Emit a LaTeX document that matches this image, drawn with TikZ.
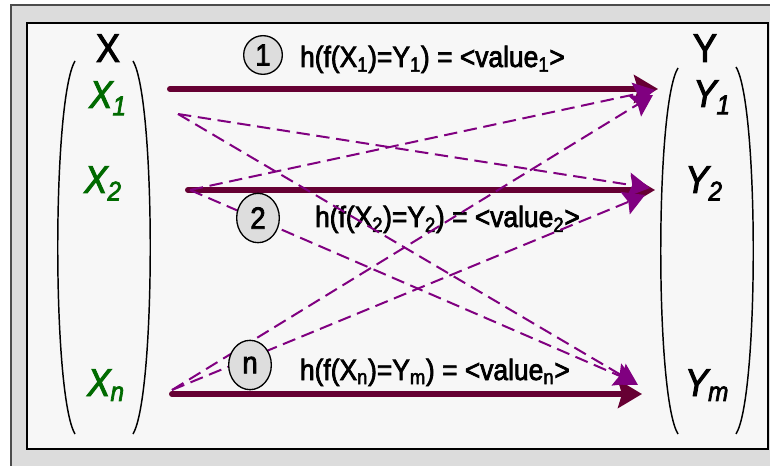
\documentclass[tikz,border=0pt]{standalone}
\usepackage{fontspec}
\setmainfont[FakeStretch=0.9, FakeBold=2.5]{Liberation Sans}
\usetikzlibrary{arrows.meta, shapes.geometric}

\definecolor{mapcol}{HTML}{660033}
\definecolor{altcol}{HTML}{800080}
\definecolor{elemgreen}{HTML}{006A00}
\definecolor{framegray}{HTML}{DCDCDC}
\definecolor{panelgray}{HTML}{F7F7F7}
\definecolor{stepgray}{HTML}{DDDDDD}

\begin{document}
\begin{tikzpicture}[x=0.75pt, y=-0.75pt, >=Stealth,
    setname/.style={font=\fontsize{30}{32}\selectfont, inner sep=0pt, anchor=base},
    xelem/.style={font=\fontsize{29}{30}\selectfont\itshape, text=elemgreen, inner sep=0pt, anchor=base},
    yelem/.style={font=\fontsize{29}{30}\selectfont\itshape, inner sep=0pt, anchor=base},
    bracket/.style={line width=1.1pt},
    mapping/.style={draw=mapcol, line width=4.5pt, line cap=round,
      -{Stealth[length=18pt, width=21pt, inset=3pt]}},
    crossing/.style={draw=altcol, line width=1.5pt, dash pattern=on 10pt off 5pt,
      -{Stealth[length=16pt, width=18pt, inset=2.5pt]}},
    maplabel/.style={font=\fontsize{22}{24}\selectfont, inner sep=0pt, anchor=base east},
    stepno/.style={ellipse, draw, fill=stepgray, line width=1pt, inner sep=0pt,
      minimum width=32pt, minimum height=37pt, font=\fontsize{23}{24}\selectfont}]
    \clip (0,0) rectangle (770,466);

    % Frames
    \draw[fill=framegray, draw=black!70, line width=1.2pt] (11,5) rectangle (800,500);
    \draw[fill=panelgray, line width=1pt] (27,23) rectangle (768,449);

    % Brackets
    \draw[bracket] (75,61) .. controls (52,100) and (52,395) .. (75,434);
    \draw[bracket] (133,61) .. controls (156,100) and (156,395) .. (133,434);
    \draw[bracket] (678,68) .. controls (655,105) and (655,397) .. (678,434);
    \draw[bracket] (736,67) .. controls (759,105) and (759,397) .. (736,434);

    % Sets and elements
    \node[setname] (X)  at (108,62)  {X};
    \node[setname] (Y)  at (705,62)  {Y};
    \node[xelem]   (x1) at (108,108) {X\textsubscript{1}};
    \node[xelem]   (x2) at (103,193) {X\textsubscript{2}};
    \node[xelem]   (xn) at (106,396) {X\textsubscript{n}};
    \node[yelem]   (y1) at (712,107) {Y\textsubscript{1}};
    \node[yelem]   (y2) at (704,193) {Y\textsubscript{2}};
    \node[yelem]   (ym) at (707,396) {Y\textsubscript{m}};

    % End points
    \coordinate (s1) at (170,89);  \coordinate (t1) at (658,89);
    \coordinate (s2) at (188,190); \coordinate (t2) at (655,190);
    \coordinate (sn) at (172,394); \coordinate (tn) at (642,394);
    \coordinate (c1) at (178,114); \coordinate (c2) at (190,190);
    \coordinate (cn) at (172,390);
    \coordinate (e1a) at (655,90);  \coordinate (e1b) at (653,95);
    \coordinate (e2a) at (650,188); \coordinate (e2b) at (645,195);
    \coordinate (ema) at (638,385); \coordinate (emb) at (636,383);

    % Mappings
    \draw[mapping] (s1) -- (t1);
    \draw[mapping] (s2) -- (t2);
    \draw[mapping] (sn) -- (tn);
    \node[maplabel] (h1) at (565,67)  {h(f(X\textsubscript{1})=Y\textsubscript{1}) = <value\textsubscript{1}>};
    \node[maplabel] (h2) at (580,227) {h(f(X\textsubscript{2})=Y\textsubscript{2}) = <value\textsubscript{2}>};
    \node[maplabel] (hn) at (570,380) {h(f(X\textsubscript{n})=Y\textsubscript{m}) = <value\textsubscript{n}>};

    % Other pairs
    \draw[crossing] (c1) -- (e2a);
    \draw[crossing] (c1) -- (ema);
    \draw[crossing] (c2) -- (e1a);
    \draw[crossing] (c2) -- (emb);
    \draw[crossing] (cn) -- (e1b);
    \draw[crossing] (cn) -- (e2b);

    % Steps
    \node[stepno, minimum width=29pt, minimum height=29pt] (n1) at (263,55)  {1};
    \node[stepno] (n2) at (258,218) {2};
    \node[stepno] (nn) at (250,365) {n};
\end{tikzpicture}
\end{document}
